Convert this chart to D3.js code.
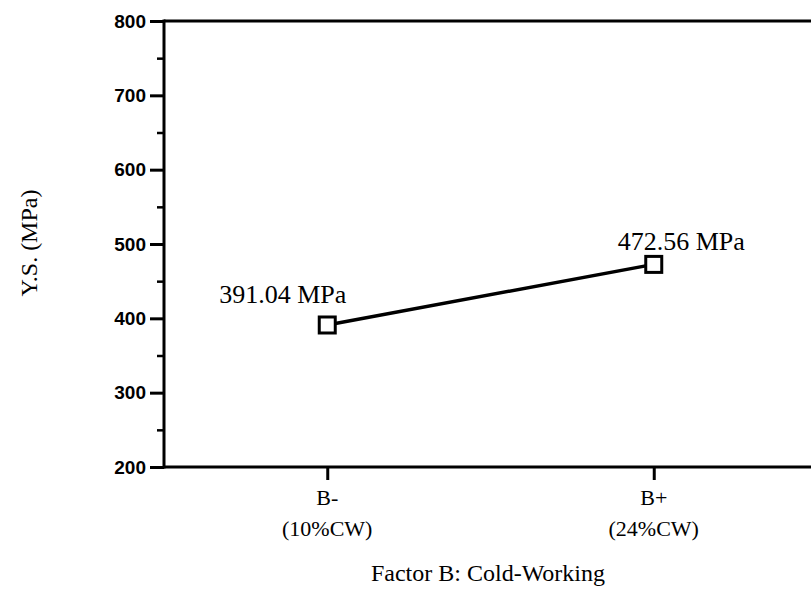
<!DOCTYPE html>
<html>
<head>
<meta charset="utf-8">
<script src="https://cdn.jsdelivr.net/npm/d3@7"></script>
<style>
  html, body { margin: 0; padding: 0; background: #fff; }
  svg { display: block; }
</style>
</head>
<body>
<svg id="chart" width="811" height="607"></svg>
<script>
// Yield strength for the two cold-working levels
const categories = ["B-", "B+"];
const categorySubLabels = ["(10%CW)", "(24%CW)"];
const yieldStrength = [391.04, 472.56];
const valueLabels = ["391.04 MPa", "472.56 MPa"];
const yTicks = [200, 300, 400, 500, 600, 700, 800];
const yMinorTicks = [250, 350, 450, 550, 650, 750];

const svg = d3.select("#chart");
const plotLeft = 164, plotRight = 817, plotTop = 21, plotBottom = 467;
const serif = "'Liberation Serif', 'Times New Roman', serif";
const sans = "'Liberation Sans', Arial, sans-serif";

const x = d3.scalePoint().domain(categories).range([plotLeft, plotRight]).padding(0.5);
const y = d3.scaleLinear().domain([200, 800]).range([plotBottom, plotTop]);

// frame: left, top and bottom edges
const frame = svg.append("g").attr("stroke", "#000").attr("stroke-width", 3).attr("fill", "none");
frame.append("line").attr("x1", plotLeft).attr("x2", plotLeft).attr("y1", plotTop - 1.5).attr("y2", plotBottom + 1.5);
frame.append("line").attr("x1", plotLeft).attr("x2", 811).attr("y1", plotTop).attr("y2", plotTop);
frame.append("line").attr("x1", plotLeft).attr("x2", 811).attr("y1", plotBottom).attr("y2", plotBottom);

// y axis: major and minor ticks
const yAxis = d3.axisLeft(y).tickValues(yTicks).tickSize(14).tickPadding(4).tickFormat(d3.format("d"));
const yg = svg.append("g").attr("transform", `translate(${plotLeft},0)`).call(yAxis);
yg.select(".domain").remove();
yg.selectAll(".tick line").attr("stroke-width", 3);
yg.selectAll(".tick text").attr("font-family", sans).attr("font-weight", "bold")
  .attr("font-size", 19).attr("fill", "#000");

const yMinor = d3.axisLeft(y).tickValues(yMinorTicks).tickSize(7).tickFormat("");
const ymg = svg.append("g").attr("transform", `translate(${plotLeft},0)`).call(yMinor);
ymg.select(".domain").remove();
ymg.selectAll(".tick line").attr("stroke-width", 2.5);

// x axis ticks and two-line category labels
const xAxis = d3.axisBottom(x).tickSize(13).tickFormat("");
const xg = svg.append("g").attr("transform", `translate(0,${plotBottom})`).call(xAxis);
xg.select(".domain").remove();
xg.selectAll(".tick line").attr("stroke-width", 3);

const catText = svg.append("g").attr("font-family", serif).attr("font-size", 22)
  .attr("text-anchor", "middle").attr("fill", "#000");
catText.selectAll("text.cat").data(categories).join("text").attr("class", "cat")
  .attr("x", d => x(d)).attr("y", 505).text(d => d);
catText.selectAll("text.sub").data(categorySubLabels).join("text").attr("class", "sub")
  .attr("x", (d, i) => x(categories[i])).attr("y", 536).text(d => d);

// axis titles
svg.append("text").attr("x", 488).attr("y", 581).attr("text-anchor", "middle")
  .attr("font-family", serif).attr("font-size", 24).text("Factor B: Cold-Working");
svg.append("text").attr("transform", "translate(37,243) rotate(-90)").attr("text-anchor", "middle")
  .attr("font-family", serif).attr("font-size", 24).text("Y.S. (MPa)");

// data line and square markers
const pts = categories.map((c, i) => [x(c), y(yieldStrength[i])]);
svg.append("path").attr("d", d3.line()(pts)).attr("stroke", "#000").attr("stroke-width", 3.5).attr("fill", "none");
svg.selectAll("rect.mk").data(pts).join("rect").attr("class", "mk")
  .attr("x", d => d[0] - 8).attr("y", d => d[1] - 8).attr("width", 16).attr("height", 16)
  .attr("fill", "#fff").attr("stroke", "#000").attr("stroke-width", 3);

// value annotations
const labelOffsets = [[-108, -22], [-36, -14]];
svg.selectAll("text.val").data(valueLabels).join("text").attr("class", "val")
  .attr("x", (d, i) => pts[i][0] + labelOffsets[i][0])
  .attr("y", (d, i) => pts[i][1] + labelOffsets[i][1])
  .attr("font-family", serif).attr("font-size", 26).attr("fill", "#000").text(d => d);
</script>
</body>
</html>
